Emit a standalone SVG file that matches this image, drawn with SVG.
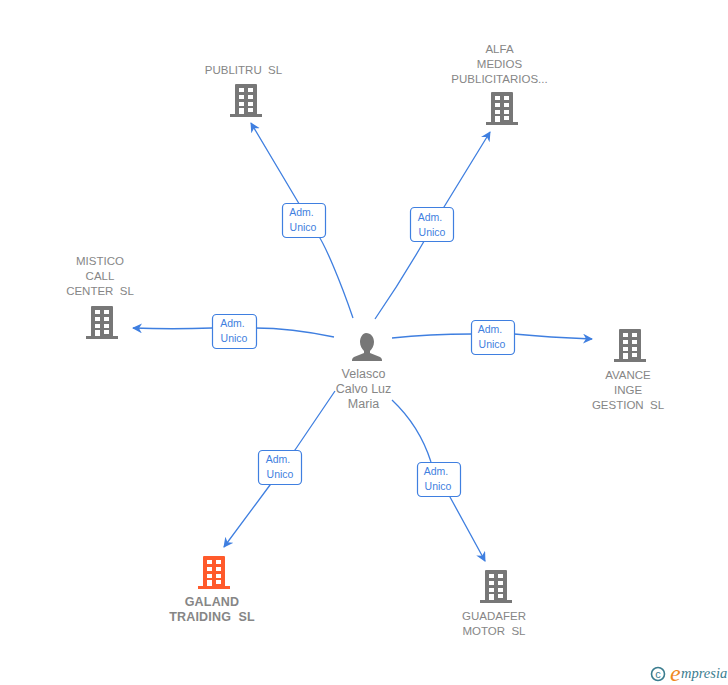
<svg xmlns="http://www.w3.org/2000/svg" width="728" height="685" viewBox="0 0 728 685">
<style>
.t{font-family:"Liberation Sans",Arial,sans-serif;font-size:11.5px;fill:#868686;text-anchor:middle;white-space:pre}
.c{font-size:12.5px}
.b{font-weight:bold;font-size:12.500px;letter-spacing:.2px}
.e{fill:none;stroke:#3f7fe0;stroke-width:1.3}
.l rect{fill:#fff;stroke:#3f7fe0;stroke-width:1.2}
.l text{font-family:"Liberation Sans",Arial,sans-serif;font-size:10.5px;fill:#3f7fe0;text-anchor:middle}
</style>
<defs>
<marker id="a" markerUnits="userSpaceOnUse" markerWidth="12" markerHeight="12" refX="9" refY="5" orient="auto"><path d="M0 0L10 5L0 10L3 5Z" fill="#3f7fe0"/></marker>
<g id="bld"><path d="M-11-17a1 1 0 0 1 1-1H10a1 1 0 0 1 1 1V12H16V15H-16V12H-11ZM-7-14V-10H-2V-14ZM2-14V-10H7V-14ZM-7-7V-3H-2V-7ZM2-7V-3H7V-7ZM-7 0V4H-2V0ZM2 0V4H7V0ZM-7 6V12H-2V6ZM2 6V10H7V6Z" fill-rule="evenodd"/></g>
</defs>
<g id="connectors">
<path class="e" marker-end="url(#a)" d="M353 318C340 280 325 245 318 235L298 202L251 123"/>
<path class="e" marker-end="url(#a)" d="M375 319C395 290 412 262 423 243L444 207L490 132"/>
<path class="e" marker-end="url(#a)" d="M334 337C310 332 280 328 255 328H212C185 329 160 329 133 328"/>
<path class="e" marker-end="url(#a)" d="M392 338C420 335 445 334 472 334H514C545 337 565 338 592 339"/>
<path class="e" marker-end="url(#a)" d="M335 391L295 450L270 485L224 547"/>
<path class="e" marker-end="url(#a)" d="M392 400C410 417 424 440 431 462L450 497L485 561"/>
</g>
<g class="l">
<g id="label-1"><rect x="282.500" y="203.500" width="43" height="34" rx="4"/><text x="301.500" y="216">Adm.</text><text x="303" y="231">Unico</text></g>
<g id="label-2"><rect x="410.500" y="207.500" width="43" height="34" rx="4"/><text x="430" y="221">Adm.</text><text x="432" y="236">Unico</text></g>
<g id="label-3"><rect x="212.500" y="314.500" width="44" height="34" rx="4"/><text x="232.500" y="327">Adm.</text><text x="234" y="342">Unico</text></g>
<g id="label-4"><rect x="471.500" y="320.500" width="43" height="34" rx="4"/><text x="490" y="333">Adm.</text><text x="492" y="348">Unico</text></g>
<g id="label-5"><rect x="258.500" y="450.500" width="43" height="34" rx="4"/><text x="278" y="463">Adm.</text><text x="280" y="478">Unico</text></g>
<g id="label-6"><rect x="417.500" y="462.500" width="43" height="34" rx="4"/><text x="436" y="475">Adm.</text><text x="438" y="490">Unico</text></g>
</g>
<g id="center"><path fill="#777" d="M366 333c5 0 8 4 8 9c0 4-2 7-4 9v2l10 4c2 1 2 3 2 4H352c0-1 0-3 2-4l10-4v-2c-2-2-4-5-4-9c0-5 3-9 6-9Z"/>
<text class="t c" x="363.500" y="378">Velasco</text><text class="t c" x="363.500" y="393">Calvo Luz</text><text class="t c" x="363.500" y="408">Maria</text></g>
<g id="publitru" fill="#777"><use href="#bld" x="246" y="102"/><text class="t" x="243.500" y="74">PUBLITRU  SL</text></g>
<g id="alfa" fill="#777"><use href="#bld" x="502" y="110"/><text class="t" x="499.500" y="53">ALFA</text><text class="t" x="499.500" y="68">MEDIOS</text><text class="t" x="499.500" y="83">PUBLICITARIOS...</text></g>
<g id="mistico" fill="#777"><use href="#bld" x="102" y="324"/><text class="t" x="100" y="265">MISTICO</text><text class="t" x="100" y="280">CALL</text><text class="t" x="100" y="295">CENTER  SL</text></g>
<g id="avance" fill="#777"><use href="#bld" x="630" y="347"/><text class="t" x="628" y="379">AVANCE</text><text class="t" x="628" y="394">INGE</text><text class="t" x="628" y="409">GESTION  SL</text></g>
<g id="galand" fill="#ff5a2b"><use href="#bld" x="214" y="574"/><text class="t b" x="212" y="606">GALAND</text><text class="t b" x="212" y="621">TRAIDING  SL</text></g>
<g id="guadafer" fill="#777"><use href="#bld" x="496" y="588"/><text class="t" x="494" y="620">GUADAFER</text><text class="t" x="494" y="635">MOTOR  SL</text></g>
<g id="logo"><circle cx="658" cy="674" r="6.500" fill="none" stroke="#3b7d8f" stroke-width="1.6"/><text x="658" y="678" font-family="Liberation Sans,sans-serif" font-size="11" fill="#3b7d8f" text-anchor="middle">c</text><text x="670" y="681" font-family="Liberation Serif,serif" font-style="italic" font-size="24" fill="#f08a1d">e</text><text x="681" y="678" font-family="Liberation Serif,serif" font-style="italic" font-size="14.500" fill="#3b7d8f">mpresia</text></g>
</svg>
